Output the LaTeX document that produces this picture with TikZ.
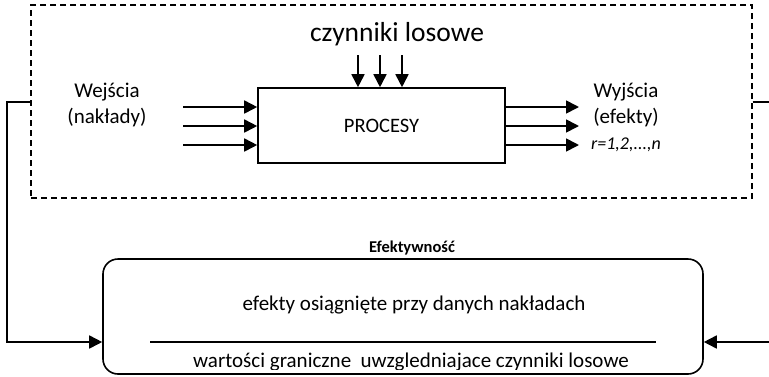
\documentclass[tikz,border=0pt]{standalone}
\usepackage{fontspec}
\setmainfont{Carlito}
\usetikzlibrary{arrows.meta}
\begin{document}
\begin{tikzpicture}[x=1pt,y=-1pt,
  line/.style={line width=1.6pt},
  arr/.style={line width=1.7pt,-{Triangle[length=13pt,width=13pt]}},
  txt/.style={inner sep=0pt,font=\fontsize{21}{25}\selectfont}]
\useasboundingbox (0,0) rectangle (769,376);
% dashed system box
\node[draw,dashed,line width=1.3pt,dash pattern=on 6pt off 4pt,minimum width=721pt,minimum height=193pt,inner sep=0pt] (sys) at (391.5,101.5) {};
% process box
\node[draw,line width=1.6pt,minimum width=247pt,minimum height=75pt,inner sep=0pt,font=\fontsize{20.5}{24}\selectfont] (proc) at (381.5,125.5) {PROCESY};
\node[txt,font=\fontsize{27.5}{32}\selectfont] (los) at (397,34) {czynniki losowe};
\node[txt,align=center,font=\fontsize{21}{26}\selectfont] (in) at (107,105) {Wejścia\\(nakłady)};
\node[txt,align=center,font=\fontsize{21}{26}\selectfont] (out) at (626,105) {Wyjścia\\(efekty)};
\node[txt,font=\fontsize{18}{21}\selectfont\itshape] (rn) at (626,145) {r=1,2,...,n};
% input and output arrows
\foreach \y/\n in {107/a,126/b,145/c}{
  \coordinate (i\n) at (183,\y);
  \coordinate (o\n) at (579,\y);
  \draw[arr] (i\n) -- (proc.west |- i\n);
  \draw[arr] (proc.east |- o\n) -- (o\n);
}
\foreach \x/\n in {358/a,380/b,402/c}{
  \coordinate (t\n) at (\x,55);
  \draw[arr] (t\n) -- (t\n |- proc.north);
}
% efficiency box
\node[font=\fontsize{16.5}{20}\selectfont\bfseries,inner sep=0pt] (efh) at (412,248) {Efektywność};
\node[draw,line width=1.6pt,rounded corners=15pt,minimum width=600pt,minimum height=115pt,inner sep=0pt] (eff) at (403,316.5) {};
\node[txt] (num) at (414,305) {efekty osiągnięte przy danych nakładach};
\coordinate (fl) at (150,342);
\coordinate (fr) at (656,342);
\draw[line] (fl) -- (fr);
\begin{scope}
\clip (eff.west |- 0,369.5) rectangle ([yshift=-4pt]eff.north east);
\node[txt,anchor=base] (den) at (411,367) {wartości graniczne\ \ uwzgledniajace czynniki losowe};
\end{scope}
% feedback loops
\coordinate (lc) at (7,102);
\coordinate (rc) at (772,102);
\draw[arr] (sys.west |- lc) -- (lc) |- (eff.west |- fl);
\draw[arr] (sys.east |- rc) -- (rc) |- (eff.east |- fl);
\end{tikzpicture}
\end{document}
